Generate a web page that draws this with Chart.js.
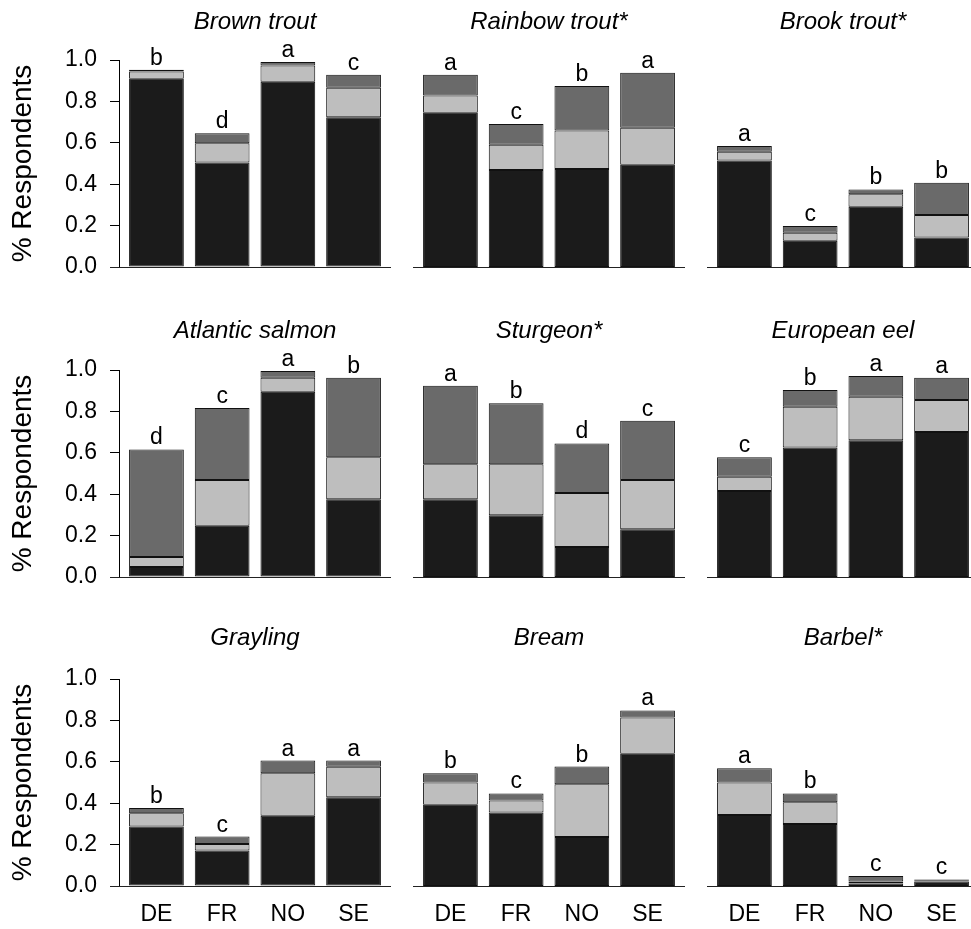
<!DOCTYPE html>
<html><head><meta charset="utf-8">
<script src="https://cdn.jsdelivr.net/npm/chart.js@4.4.1/dist/chart.umd.min.js"></script>
<style>
html,body{margin:0;padding:0;background:#fff;overflow:hidden;width:971px;height:929px;position:relative;}
canvas{position:absolute;}
</style></head><body>
<script>
const countries = ['DE','FR','NO','SE'];
const speciesNames = ['Brown trout','Rainbow trout*','Brook trout*','Atlantic salmon','Sturgeon*','European eel','Grayling','Bream','Barbel*'];
const blackShare = [
 [0.910,0.505,0.895,0.723],
 [0.745,0.469,0.473,0.494],
 [0.514,0.127,0.291,0.143],
 [0.048,0.247,0.895,0.376],
 [0.376,0.298,0.145,0.231],
 [0.416,0.626,0.661,0.701],
 [0.287,0.171,0.339,0.429],
 [0.392,0.355,0.237,0.639],
 [0.343,0.300,0.012,0.022]];
const lightShare = [
 [0.035,0.093,0.078,0.143],
 [0.083,0.122,0.186,0.179],
 [0.043,0.039,0.060,0.108],
 [0.049,0.221,0.068,0.202],
 [0.169,0.247,0.261,0.238],
 [0.068,0.196,0.210,0.154],
 [0.065,0.032,0.206,0.147],
 [0.108,0.058,0.255,0.175],
 [0.157,0.105,0.010,0.003]];
const darkShare = [
 [0.008,0.048,0.017,0.063],
 [0.101,0.100,0.215,0.266],
 [0.028,0.032,0.024,0.156],
 [0.519,0.348,0.032,0.385],
 [0.379,0.294,0.239,0.286],
 [0.094,0.081,0.100,0.108],
 [0.025,0.036,0.061,0.030],
 [0.045,0.034,0.085,0.034],
 [0.069,0.042,0.026,0.007]];
const sigLetters = [
 ['b','d','a','c'],
 ['a','c','b','a'],
 ['a','c','b','b'],
 ['d','c','a','b'],
 ['a','b','d','c'],
 ['c','b','a','a'],
 ['b','c','a','a'],
 ['b','c','b','a'],
 ['a','b','c','c']];
const yAxisTitle = '% Respondents';

// layout (R barplot style: bar width 1, space 0.2, axis range extended by 4%)
const BAR_W = 1, BAR_SPACE = 0.2;
const nBars = countries.length;
const xSpan = nBars * (BAR_W + BAR_SPACE) + BAR_SPACE;
const xMin = BAR_SPACE - 0.04 * (xSpan - 2 * BAR_SPACE);
const xMax = xSpan - xMin;
const barCenters = countries.map((c, i) => BAR_SPACE + BAR_W / 2 + i * (BAR_W + BAR_SPACE));

const colLeft = [119, 413, 707];
const rowTop = [60, 370, 679];
const AREA_W = 272, AREA_H = 207, TB = 60, XH = 43, YW = 119;
const titlePadTop = [8, 7, 5];
const FONT = "'Liberation Sans', Arial, sans-serif";
Chart.defaults.font.family = FONT;
Chart.defaults.color = '#000';

const lettersPlugin = {
  id: 'letters',
  afterDatasetsDraw(chart) {
    const ctx = chart.ctx;
    const meta = chart.getDatasetMeta(chart.data.datasets.length - 1);
    const lets = chart.options.plugins.letters.values;
    ctx.save();
    ctx.font = '23px ' + FONT;
    ctx.fillStyle = '#000';
    ctx.textAlign = 'center';
    ctx.textBaseline = 'alphabetic';
    meta.data.forEach((bar, i) => {
      ctx.fillText(lets[i], bar.x, bar.y - 5);
    });
    ctx.restore();
  }
};
const baselinePlugin = {
  id: 'baseline',
  afterDraw(chart) {
    const {ctx, chartArea} = chart;
    const ext = chart.options.plugins.baseline.extend;
    const y = Math.round(chart.scales.y.getPixelForValue(0)) + 0.5;
    ctx.save();
    ctx.strokeStyle = '#222';
    ctx.lineWidth = 1.2;
    ctx.beginPath();
    ctx.moveTo(chartArea.left - ext, y);
    ctx.lineTo(chartArea.right, y);
    ctx.stroke();
    ctx.restore();
  }
};

speciesNames.forEach((name, k) => {
  const r = Math.floor(k / 3), c = k % 3;
  const yw = c === 0 ? YW : 0;
  const cv = document.createElement('canvas');
  const W = yw + AREA_W, H = TB + AREA_H + XH;
  cv.width = W; cv.height = H;
  cv.style.width = W + 'px'; cv.style.height = H + 'px';
  cv.style.left = (colLeft[c] - yw) + 'px';
  cv.style.top = (rowTop[r] - TB) + 'px';
  document.body.appendChild(cv);
  const mk = (label, vals, color) => ({
    label, backgroundColor: color, borderColor: '#111', borderWidth: 1, borderSkipped: false,
    data: vals.map((v, i) => ({x: barCenters[i], y: v})),
    categoryPercentage: 1, barPercentage: BAR_W / (BAR_W + BAR_SPACE)
  });
  new Chart(cv, {
    type: 'bar',
    data: { datasets: [
      mk('black', blackShare[k], '#1b1b1b'),
      mk('light', lightShare[k], '#bebebe'),
      mk('dark', darkShare[k], '#6a6a6a')
    ]},
    options: {
      responsive: false, animation: false, devicePixelRatio: 1,
      layout: { padding: 0 },
      plugins: {
        legend: { display: false }, tooltip: { enabled: false },
        title: { display: true, text: name, fullSize: false, color: '#000',
          font: { size: 24, style: 'italic', weight: 'normal', lineHeight: 1.2 },
          padding: { top: titlePadTop[r], bottom: TB - titlePadTop[r] - 28.8 } },
        letters: { values: sigLetters[k] },
        baseline: { extend: c === 0 ? 9 : 0 }
      },
      scales: {
        x: { type: 'linear', min: xMin, max: xMax, stacked: true, display: true, offset: false,
          grid: { display: false, drawTicks: false, offset: false }, border: { display: false },
          afterBuildTicks: s => { s.ticks = barCenters.map(v => ({ value: v })); },
          afterFit: s => { s.height = XH; },
          ticks: { display: r === 2, autoSkip: false, maxRotation: 0, padding: 15,
            font: { size: 23 }, color: '#000',
            callback: (v, i) => countries[i] }
        },
        y: { min: 0, max: 1, stacked: true, display: c === 0,
          afterFit: s => { if (c === 0) s.width = YW; },
          grid: { display: true, drawOnChartArea: false, drawTicks: true, tickLength: 9, color: '#000', lineWidth: 1 },
          border: { display: true, color: '#000', width: 1 },
          ticks: { stepSize: 0.1, padding: 13, font: { size: 23 }, color: '#000',
            callback: v => (Math.round(v * 10) % 2 === 0 ? (Math.round(v * 10) / 10).toFixed(1) : '') },
          title: { display: true, text: yAxisTitle, font: { size: 28 }, color: '#000', padding: { top: 6, bottom: 0 } }
        }
      }
    },
    plugins: [lettersPlugin, baselinePlugin]
  });
});
</script>
</body></html>
